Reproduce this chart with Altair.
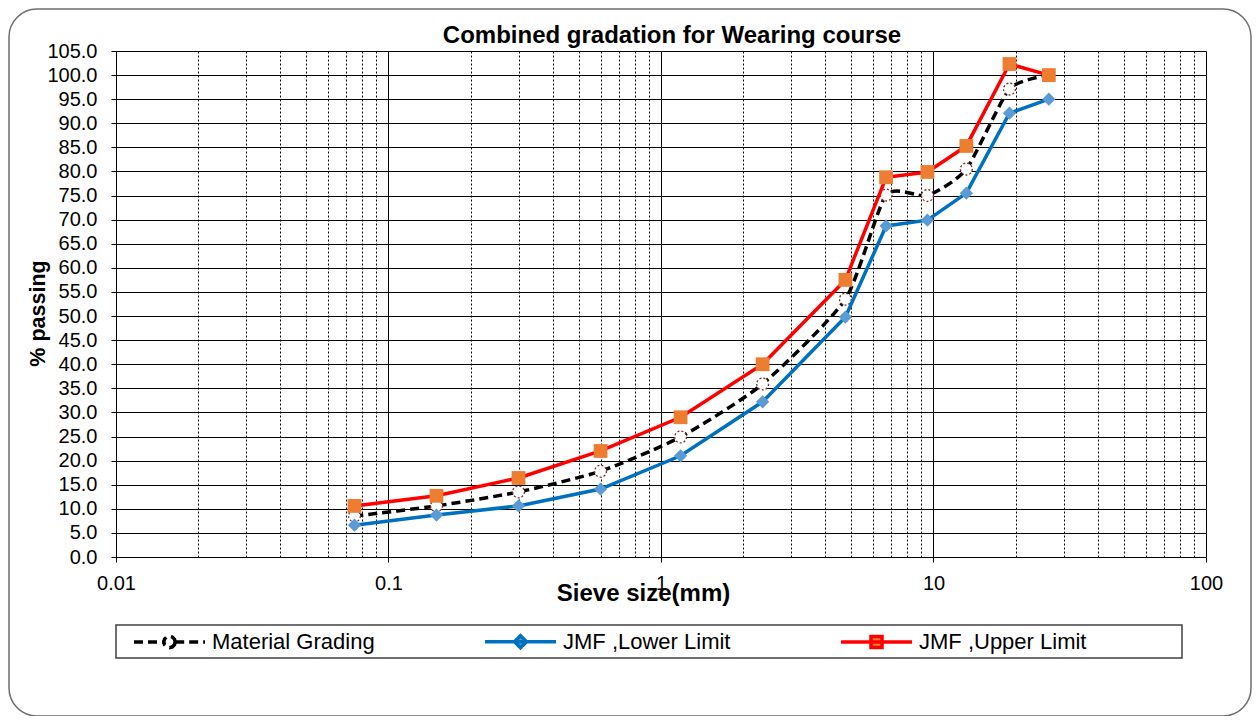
import altair as alt
import pandas as pd

# ---- data ----
sieve = [0.075, 0.15, 0.3, 0.6, 1.18, 2.36, 4.75, 6.7, 9.5, 13.2, 19.0, 26.5]
material = [8.5, 10.6, 13.5, 17.8, 24.9, 35.9, 53.5, 75.1, 75.0, 80.5, 97.1, 100.0]
lower = [6.6, 8.7, 10.6, 14.1, 21.0, 32.2, 49.8, 68.7, 69.9, 75.5, 92.1, 95.0]
upper = [10.6, 12.7, 16.4, 22.0, 29.0, 40.0, 57.5, 78.8, 79.9, 85.3, 102.3, 100.0]
series_names = ["Material Grading", "JMF ,Lower Limit", "JMF ,Upper Limit"]

y_ticks = [0, 5, 10, 15, 20, 25, 30, 35, 40, 45, 50, 55, 60, 65, 70, 75, 80, 85, 90, 95, 100, 105]
x_major = [0.01, 0.1, 1, 10, 100]
x_minor = [0.02, 0.03, 0.04, 0.05, 0.06, 0.07, 0.08, 0.09,
           0.2, 0.3, 0.4, 0.5, 0.6, 0.7, 0.8, 0.9,
           2, 3, 4, 5, 6, 7, 8, 9,
           20, 30, 40, 50, 60, 70, 80, 90]

FONT = "Liberation Sans"
W, H = 1090, 506

rows = []
for name, vals in zip(series_names, [material, lower, upper]):
    for s, v in zip(sieve, vals):
        rows.append({"sieve": s, "passing": v, "series": name})
df = pd.DataFrame(rows)
legend_df = pd.DataFrame({"series": series_names})

major_list = "[" + ",".join(str(v) for v in x_major) + "]"
is_major = f"indexof({major_list}, datum.value) >= 0"

x_enc = alt.X(
    "sieve:Q",
    scale=alt.Scale(type="log", domain=[0.01, 100]),
    axis=alt.Axis(
        values=sorted(x_major + x_minor),
        labelExpr=f"{is_major} ? format(datum.value, '~g') : ''",
        labelOverlap=False,
        labelFlush=False,
        labelFontSize=20,
        labelFont=FONT,
        labelColor="black",
        labelPadding=11,
        grid=True,
        gridColor="black",
        gridWidth=1,
        gridDash={"condition": {"test": is_major, "value": []}, "value": [2, 2]},
        tickSize={"condition": {"test": is_major, "value": 5}, "value": 0},
        tickColor="black",
        domainColor="black",
        title="Sieve size(mm)",
        titleFont=FONT,
        titleFontSize=24,
        titleFontWeight="bold",
        titleColor="black",
        titleX=527,
        titleY=43,
        titleAlign="center",
        titleBaseline="alphabetic",
    ),
)
y_enc = alt.Y(
    "passing:Q",
    scale=alt.Scale(domain=[0, 105], nice=False),
    axis=alt.Axis(
        values=y_ticks,
        format=".1f",
        labelFontSize=20,
        labelFont=FONT,
        labelColor="black",
        labelPadding=14,
        grid=True,
        gridColor="black",
        gridWidth=1,
        tickSize=5,
        tickColor="black",
        domainColor="black",
        title="% passing",
        titleFont=FONT,
        titleFontSize=21.5,
        titleFontWeight="bold",
        titleColor="black",
        titleAngle=270,
        titleX=-78,
        titleY=262,
        titleAlign="center",
        titleBaseline="middle",
    ),
)

base = alt.Chart(df).encode(x=x_enc, y=y_enc)

# outer rounded frame and legend box (decoration)
one = alt.Data(values=[{"k": 0}])
frame = alt.Chart(one).mark_rect(
    fill="white", fillOpacity=0, stroke="#6e6e6e", strokeWidth=1.5, cornerRadius=28
).encode(x=alt.value(-107), x2=alt.value(1135), y=alt.value(-42), y2=alt.value(665))
legend_box = alt.Chart(one).mark_rect(
    fill="white", stroke="#404040", strokeWidth=1.5
).encode(x=alt.value(0), x2=alt.value(1066), y=alt.value(574), y2=alt.value(607))

mat_line = base.transform_filter(alt.datum.series == series_names[0]).mark_line(
    color="black", strokeWidth=3.5, strokeDash=[9, 5], interpolate="cardinal", tension=0.4
)
mat_pts = base.transform_filter(alt.datum.series == series_names[0]).mark_point(
    shape="circle", size=140, fill="white", filled=False, stroke="#7B2C2C",
    strokeWidth=1.3, strokeDash=[2, 2], opacity=1
)
low_line = base.transform_filter(alt.datum.series == series_names[1]).mark_line(
    color="#0070C0", strokeWidth=3.5
)
low_pts = base.transform_filter(alt.datum.series == series_names[1]).mark_point(
    shape="diamond", size=175, filled=True, color="#5B9BD5", opacity=1
)
up_line = base.transform_filter(alt.datum.series == series_names[2]).mark_line(
    color="#FF0000", strokeWidth=3.5
)
up_pts = base.transform_filter(alt.datum.series == series_names[2]).mark_point(
    shape="square", size=190, filled=True, color="#ED7D31", opacity=1
)

# legend with line+marker symbols
legend = alt.Legend(
    orient="none", legendX=16, legendY=553, direction="horizontal", columns=3,
    columnPadding=103, symbolSize=5041, symbolStrokeWidth=3.5, symbolOpacity=1,
    labelFontSize=22, labelFont=FONT, labelColor="black", labelOffset=5, labelLimit=400,
    title=None, padding=0,
)
circle_path = ("M0.16,0L0.139,0.08L0.08,0.139L0,0.16L-0.08,0.139L-0.139,0.08L-0.16,0"
               "L-0.139,-0.08L-0.08,-0.139L0,-0.16L0.08,-0.139L0.139,-0.08Z")
paths = [
    "M-1,0L-0.16,0M0.16,0L1,0" + circle_path,
    "M-1,0L1,0M0,-0.17L0.17,0L0,0.17L-0.17,0Z",
    "M-1,0L1,0M-0.155,-0.155L0.155,-0.155L0.155,0.155L-0.155,0.155Z",
]
leg_layer = alt.Chart(legend_df).mark_point(opacity=0, strokeWidth=3.5).encode(
    shape=alt.Shape("series:N", scale=alt.Scale(domain=series_names, range=paths), legend=legend),
    fill=alt.Fill("series:N", scale=alt.Scale(domain=series_names, range=["white", "#5B9BD5", "#ED7D31"]), legend=legend),
    stroke=alt.Stroke("series:N", scale=alt.Scale(domain=series_names, range=["black", "#0070C0", "#FF0000"]), legend=legend),
    strokeDash=alt.StrokeDash("series:N", scale=alt.Scale(domain=series_names, range=[[9, 5], [1, 0], [1, 0]]), legend=legend),
)

chart = alt.layer(
    frame, legend_box, mat_line, mat_pts, low_line, low_pts, up_line, up_pts, leg_layer
).properties(
    width=W, height=H,
    title=alt.Title(
        "Combined gradation for Wearing course", font=FONT, fontSize=24,
        fontWeight="bold", color="black", anchor="middle", dx=11, offset=-40,
    ),
    autosize=alt.AutoSizeParams(type="none"),
    padding={"left": 108, "top": 43, "right": 46, "bottom": 159},
).configure_view(stroke="black", strokeWidth=1).configure(font=FONT)

chart.save("out.html", embed_options={"renderer": "svg", "actions": False})
